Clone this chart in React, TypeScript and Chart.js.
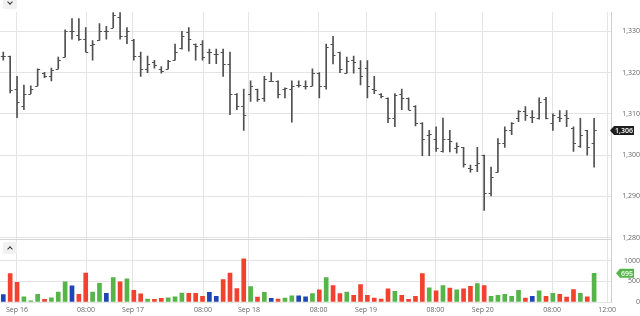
import React, { useEffect, useRef } from "react";
import { Chart, registerables } from "chart.js";

Chart.register(...registerables);

// ---- data ----
const opens = [
  1324.0, 1324.0, 1316.0, 1311.9, 1314.9, 1316.8, 1319.9, 1319.1, 1320.9, 1323.8,
  1330.0, 1329.1, 1328.1, 1326.6, 1327.8, 1330.0, 1330.9, 1333.5, 1328.8, 1327.8,
  1324.0, 1321.0, 1322.6, 1320.9, 1320.9, 1323.0, 1326.0, 1329.8, 1326.9, 1326.9,
  1325.0, 1324.6, 1325.0, 1322.2, 1314.9, 1311.8, 1314.9, 1316.0, 1313.8, 1318.0,
  1318.0, 1316.0, 1316.0, 1317.0, 1316.8, 1316.8, 1319.9, 1316.8, 1326.9, 1325.0,
  1320.0, 1323.0, 1321.1, 1321.1, 1316.0, 1314.9, 1313.9, 1309.1, 1314.9, 1313.9,
  1312.0, 1307.9, 1304.8, 1303.9, 1300.9, 1303.9, 1301.7, 1301.9, 1297.0, 1297.5,
  1300.0, 1290.9, 1295.9, 1302.9, 1306.0, 1308.9, 1310.8, 1309.3, 1308.9, 1313.6,
  1307.9, 1309.2, 1309.8, 1306.7, 1302.2, 1306.0, 1303.0,
];
const highs = [
  1325.0, 1324.0, 1319.1, 1317.0, 1316.8, 1320.9, 1320.1, 1321.1, 1323.8, 1330.4,
  1333.1, 1333.1, 1330.9, 1327.8, 1331.9, 1331.2, 1334.9, 1334.9, 1330.9, 1328.1,
  1325.0, 1324.0, 1323.0, 1321.5, 1323.0, 1326.9, 1330.0, 1330.9, 1327.0, 1327.8,
  1325.7, 1325.7, 1325.7, 1325.0, 1314.9, 1316.0, 1318.0, 1316.0, 1319.1, 1320.0,
  1318.0, 1316.3, 1318.0, 1318.0, 1318.0, 1320.9, 1320.0, 1326.9, 1328.8, 1325.0,
  1323.8, 1324.0, 1322.9, 1322.9, 1319.1, 1314.9, 1313.9, 1314.9, 1316.0, 1313.9,
  1312.0, 1307.9, 1306.0, 1306.9, 1309.0, 1306.0, 1303.0, 1301.9, 1297.6, 1301.9,
  1300.0, 1297.1, 1304.0, 1306.9, 1307.9, 1310.8, 1311.8, 1310.8, 1313.9, 1314.0,
  1310.0, 1310.8, 1310.8, 1306.9, 1308.9, 1306.0, 1308.9,
];
const lows = [
  1323.0, 1315.1, 1309.1, 1311.0, 1314.9, 1316.8, 1318.8, 1318.0, 1320.9, 1323.8,
  1328.1, 1327.8, 1325.0, 1323.0, 1327.8, 1328.1, 1330.9, 1328.1, 1327.0, 1323.0,
  1319.1, 1320.0, 1321.1, 1319.9, 1320.9, 1323.0, 1325.7, 1325.2, 1323.0, 1323.0,
  1322.2, 1322.2, 1319.1, 1309.8, 1311.0, 1306.0, 1313.0, 1313.0, 1313.0, 1318.0,
  1313.9, 1313.9, 1308.0, 1316.5, 1316.0, 1316.8, 1313.9, 1316.0, 1322.1, 1320.0,
  1319.9, 1319.9, 1317.0, 1313.9, 1314.9, 1313.9, 1307.9, 1306.9, 1311.0, 1311.0,
  1307.1, 1299.9, 1299.9, 1300.9, 1300.7, 1300.8, 1300.5, 1297.1, 1295.9, 1296.0,
  1286.6, 1290.1, 1295.9, 1301.9, 1305.0, 1308.1, 1308.4, 1307.9, 1308.7, 1308.8,
  1306.0, 1308.1, 1306.9, 1300.9, 1301.9, 1300.0, 1297.1,
];
const closes = [
  1324.0, 1315.9, 1313.0, 1314.9, 1316.0, 1320.9, 1319.1, 1320.7, 1323.0, 1330.0,
  1330.0, 1328.1, 1325.0, 1327.0, 1330.0, 1330.0, 1334.0, 1329.0, 1330.0, 1324.0,
  1320.9, 1322.0, 1321.9, 1320.3, 1322.9, 1325.0, 1328.8, 1328.1, 1326.4, 1323.8,
  1325.0, 1324.6, 1322.2, 1314.9, 1311.8, 1309.8, 1316.8, 1313.7, 1318.4, 1318.0,
  1314.9, 1316.3, 1316.8, 1317.0, 1316.8, 1320.0, 1316.8, 1326.1, 1324.2, 1320.9,
  1322.9, 1322.6, 1319.1, 1316.8, 1315.9, 1314.3, 1309.1, 1314.6, 1313.9, 1311.0,
  1307.9, 1303.9, 1305.2, 1301.7, 1303.9, 1303.5, 1302.3, 1297.8, 1296.7, 1298.0,
  1290.9, 1294.7, 1302.9, 1306.0, 1307.7, 1310.6, 1309.8, 1309.3, 1312.8, 1308.9,
  1309.8, 1308.9, 1308.9, 1303.0, 1305.0, 1301.9, 1306.0,
];
const volumes = [
  180, 686, 476, 125, 31, 187, 62, 101, 242, 491,
  390, 187, 702, 242, 452, 211, 593, 491, 562, 281,
  195, 70, 62, 86, 101, 125, 218, 211, 211, 140,
  234, 140, 546, 702, 328, 1045, 374, 117, 234, 86,
  70, 94, 148, 148, 125, 203, 296, 593, 398, 203,
  242, 164, 421, 164, 94, 70, 320, 257, 164, 62,
  140, 686, 343, 273, 398, 335, 296, 320, 382, 445,
  398, 140, 164, 187, 140, 281, 94, 140, 273, 140,
  211, 187, 117, 304, 211, 125, 695,
];
const xTickValues = [1.99, 12.04, 18.88, 29.07, 35.76, 45.9, 52.8, 62.9, 69.8, 79.9, 87.9];
const xTickLabels = ["Sep 16", "08:00", "Sep 17", "08:00", "Sep 18", "08:00", "Sep 19", "08:00", "Sep 20", "08:00", "12:00"];
const priceTicks = [1280, 1290, 1300, 1310, 1320, 1330];
const volumeTicks = [0, 500, 1000];

const UP = "#55b548";
const DOWN = "#f2412f";
const FLAT = "#1e45b3";
const BAR = "#505050";
const GRID = "#e4e4e4";
const TEXT = "#666666";
const FONT = "'Open Sans', sans-serif";

const ohlcTicks = {
  id: "ohlcTicks",
  afterDatasetsDraw(chart: any) {
    const { ctx } = chart;
    const x = chart.scales.x;
    const y = chart.scales.y;
    ctx.save();
    ctx.beginPath();
    ctx.rect(chart.chartArea.left, y.top, chart.chartArea.right - chart.chartArea.left, y.bottom - y.top);
    ctx.clip();
    ctx.strokeStyle = BAR;
    ctx.lineWidth = 1;
    ctx.beginPath();
    opens.forEach((o, i) => {
      const px = x.getPixelForValue(i);
      const yo = Math.round(y.getPixelForValue(o)) + 0.5;
      const yc = Math.round(y.getPixelForValue(closes[i])) + 0.5;
      ctx.moveTo(px - 2.5, yo);
      ctx.lineTo(px, yo);
      ctx.moveTo(px, yc);
      ctx.lineTo(px + 2.5, yc);
    });
    ctx.stroke();
    ctx.restore();
  },
};

function tag(ctx: any, xStart: number, xEnd: number, yc: number, color: string, text: string) {
  const h = 9;
  const tip = 4;
  ctx.fillStyle = color;
  ctx.beginPath();
  ctx.moveTo(xStart, yc);
  ctx.lineTo(xStart + tip, yc - h / 2);
  ctx.lineTo(xEnd, yc - h / 2);
  ctx.lineTo(xEnd, yc + h / 2);
  ctx.lineTo(xStart + tip, yc + h / 2);
  ctx.closePath();
  ctx.fill();
  ctx.fillStyle = "#ffffff";
  ctx.font = `600 7px ${FONT}`;
  ctx.textAlign = "center";
  ctx.textBaseline = "middle";
  ctx.fillText(text, (xStart + tip + xEnd) / 2, yc + 0.5);
}

const panelDecor = {
  id: "panelDecor",
  afterDraw(chart: any) {
    const { ctx } = chart;
    const yv = chart.scales.yv;
    const y = chart.scales.y;
    const area = chart.chartArea;
    ctx.save();
    ctx.strokeStyle = "#d6d6d6";
    ctx.lineWidth = 1;
    ctx.beginPath();
    ctx.moveTo(area.left, Math.round(yv.top) + 0.5);
    ctx.lineTo(area.right, Math.round(yv.top) + 0.5);
    ctx.stroke();
    const last = closes.length - 1;
    tag(ctx, area.right - 1, 634, y.getPixelForValue(closes[last]), "#1f1f1f", closes[last].toLocaleString("en-US", { maximumFractionDigits: 0 }));
    tag(ctx, area.right + 5, 634, yv.getPixelForValue(volumes[last]), UP, String(volumes[last]));
    ctx.restore();
  },
};

function Chevron({ up, left, top }: { up: boolean; left: number; top: number }) {
  return (
    <div
      style={{
        position: "absolute",
        left,
        top,
        width: 14,
        height: 12,
        background: "#f1f1f1",
        borderRadius: 2,
      }}
    >
      <div
        style={{
          position: "absolute",
          left: 5,
          top: up ? 5 : 3,
          width: 3,
          height: 3,
          borderLeft: "1.5px solid #333",
          borderTop: "1.5px solid #333",
          transform: up ? "rotate(45deg)" : "rotate(225deg)",
        }}
      />
    </div>
  );
}

export default function App() {
  const ref = useRef<HTMLCanvasElement | null>(null);
  useEffect(() => {
    document.body.style.margin = "0";
    const canvas = ref.current;
    if (!canvas) return;
    const idx = opens.map((_, i) => i);
    const volColors = idx.map((i) => (closes[i] > opens[i] ? UP : closes[i] < opens[i] ? DOWN : FLAT));
    const tickFont = { family: FONT, size: 7 };
    const chart = new Chart(canvas, {
      type: "bar",
      data: {
        datasets: [
          {
            label: "range",
            data: idx.map((i) => ({ x: i, y: [lows[i], highs[i]] })) as any,
            xAxisID: "x",
            yAxisID: "y",
            backgroundColor: BAR,
            borderWidth: 0,
            barThickness: 1,
            grouped: false,
          } as any,
          {
            label: "volume",
            data: idx.map((i) => ({ x: i, y: volumes[i] })) as any,
            xAxisID: "x",
            yAxisID: "yv",
            backgroundColor: volColors,
            borderWidth: 0,
            barThickness: 4,
            grouped: false,
          } as any,
        ],
      },
      options: {
        animation: false,
        responsive: false,
        maintainAspectRatio: false,
        layout: { padding: 0 },
        plugins: { legend: { display: false }, tooltip: { enabled: false } },
        scales: {
          x: {
            type: "linear",
            min: -0.48,
            max: 88.46,
            offset: false,
            grid: { color: GRID, drawTicks: false, offset: false },
            border: { display: false },
            ticks: {
              font: tickFont,
              color: TEXT,
              padding: 4,
              maxRotation: 0,
              autoSkip: false,
              callback: (_v: any, i: number) => xTickLabels[i],
            },
            afterBuildTicks: (s: any) => {
              s.ticks = xTickValues.map((v) => ({ value: v }));
            },
            afterFit: (s: any) => {
              s.height = 14;
            },
          },
          y: {
            type: "linear",
            position: "right",
            stack: "panes",
            stackWeight: 236,
            min: 1279.767,
            max: 1334.65,
            grid: { color: GRID, drawTicks: false },
            border: { display: true, color: "#cfcfcf" },
            ticks: {
              font: tickFont,
              color: TEXT,
              padding: 6,
              crossAlign: "far",
              callback: (v: any) => Number(v).toLocaleString("en-US"),
            },
            afterBuildTicks: (s: any) => {
              s.ticks = priceTicks.map((v) => ({ value: v }));
            },
            afterFit: (s: any) => {
              s.width = 29;
            },
          },
          yv: {
            type: "linear",
            position: "right",
            stack: "panes",
            stackWeight: 66,
            min: 0,
            max: 1535,
            grid: { color: GRID, drawTicks: false },
            border: { display: true, color: "#cfcfcf" },
            ticks: {
              font: tickFont,
              color: TEXT,
              padding: 8,
              crossAlign: "far",
              callback: (v: any) => String(v),
            },
            afterBuildTicks: (s: any) => {
              s.ticks = volumeTicks.map((v) => ({ value: v }));
            },
            afterFit: (s: any) => {
              s.width = 29;
            },
          },
        },
      } as any,
      plugins: [ohlcTicks, panelDecor],
    });
    return () => chart.destroy();
  }, []);

  return (
    <div style={{ position: "relative", width: 640, height: 316, overflow: "hidden", background: "#fff" }}>
      <canvas ref={ref} width={640} height={316} style={{ display: "block", width: 640, height: 316 }} />
      <Chevron up={false} left={3} top={-3} />
      <Chevron up={true} left={3} top={242} />
    </div>
  );
}
